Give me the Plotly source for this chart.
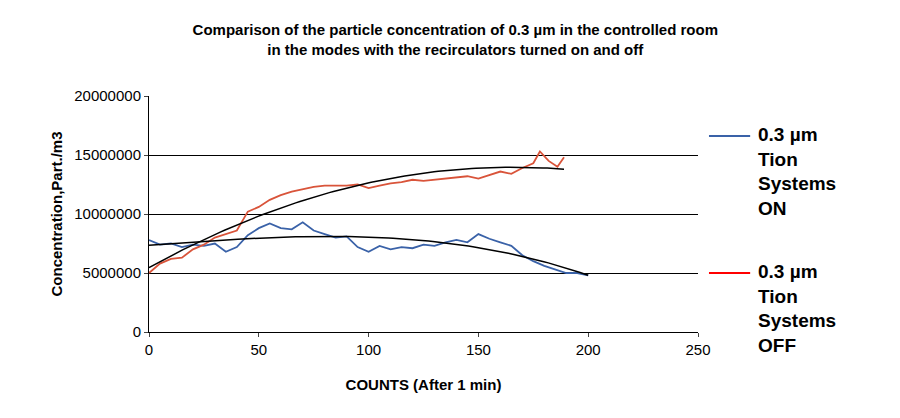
import numpy as np
import plotly.graph_objects as go

# Tion Systems ON (blue) - counts and concentration
x_on = list(range(0, 201, 5))
y_on = [7.8, 7.4, 7.5, 7.2, 7.4, 7.3, 7.5, 6.8, 7.2, 8.2, 8.8, 9.2, 8.8, 8.7, 9.3, 8.6,
        8.3, 8.0, 8.1, 7.2, 6.8, 7.3, 7.0, 7.2, 7.1, 7.4, 7.3, 7.6, 7.8, 7.6, 8.3, 7.9,
        7.6, 7.3, 6.5, 6.0, 5.6, 5.3, 5.0, 5.0, 4.8]
y_on = [v * 1e6 for v in y_on]

# Tion Systems OFF (red)
x_off = list(range(0, 176, 5)) + [178, 182, 186, 189]
y_off = [5.0, 5.8, 6.2, 6.3, 7.0, 7.4, 8.0, 8.3, 8.6, 10.2, 10.6, 11.2, 11.6, 11.9, 12.1,
         12.3, 12.4, 12.4, 12.4, 12.5, 12.2, 12.4, 12.6, 12.7, 12.9, 12.8, 12.9, 13.0,
         13.1, 13.2, 13.0, 13.3, 13.6, 13.4, 13.9, 14.3, 15.3, 14.5, 14.0, 14.8]
y_off = [v * 1e6 for v in y_off]

fig = go.Figure()
fig.add_trace(go.Scatter(x=x_on, y=y_on, mode="lines", line=dict(color="#3a62a8", width=1.8)))
fig.add_trace(go.Scatter(x=x_off, y=y_off, mode="lines", line=dict(color="#d9543a", width=1.8)))

# polynomial trend lines
for xs, ys, deg in [(x_on, y_on, 3), (x_off, y_off, 2)]:
    p = np.polyfit(xs, ys, deg)
    xt = np.linspace(0, xs[-1], 100)
    fig.add_trace(go.Scatter(x=xt, y=np.polyval(p, xt), mode="lines",
                             line=dict(color="black", width=1.5)))

# legend drawn at right
for ypos, col, label in [(0.83, "#3a62a8", "0.3 µm<br>Tion<br>Systems<br>ON"),
                         (0.25, "red", "0.3 µm<br>Tion<br>Systems<br>OFF")]:
    fig.add_shape(type="line", xref="paper", yref="paper", x0=1.02, x1=1.095,
                  y0=ypos, y1=ypos, line=dict(color=col, width=2))
    fig.add_annotation(xref="paper", yref="paper", x=1.105, y=ypos + 0.06, xanchor="left",
                       yanchor="top", text="<b>" + label + "</b>", showarrow=False, align="left",
                       font=dict(size=19, color="black"))

fig.update_layout(
    width=900, height=418,
    showlegend=False,
    plot_bgcolor="white", paper_bgcolor="white",
    font=dict(family="Liberation Sans, Arial", color="black"),
    margin=dict(l=141, r=210, t=88, b=94, autoexpand=False),
    title=dict(text="<b>Comparison of the particle concentration of 0.3 µm in the controlled room<br>in the modes with the recirculators turned on and off</b>",
               x=0.497, xanchor="center", y=0.935, font=dict(size=15)),
    xaxis=dict(range=[0, 250], dtick=50, showgrid=False, showline=True, linecolor="black",
               ticks="outside", ticklen=4, tickfont=dict(size=15), zeroline=False,
               title=dict(text="<b>COUNTS (After 1 min)</b>", font=dict(size=15), standoff=22)),
    yaxis=dict(range=[0, 20e6], dtick=5e6, tickformat="d", showgrid=True, gridcolor="black",
               gridwidth=1, showline=True, linecolor="black", ticks="outside", ticklen=4,
               tickfont=dict(size=15), zeroline=False,
               title=dict(text="<b>Concentration,Part./m3</b>", font=dict(size=15), standoff=8)),
)

fig.write_html("out.html")
